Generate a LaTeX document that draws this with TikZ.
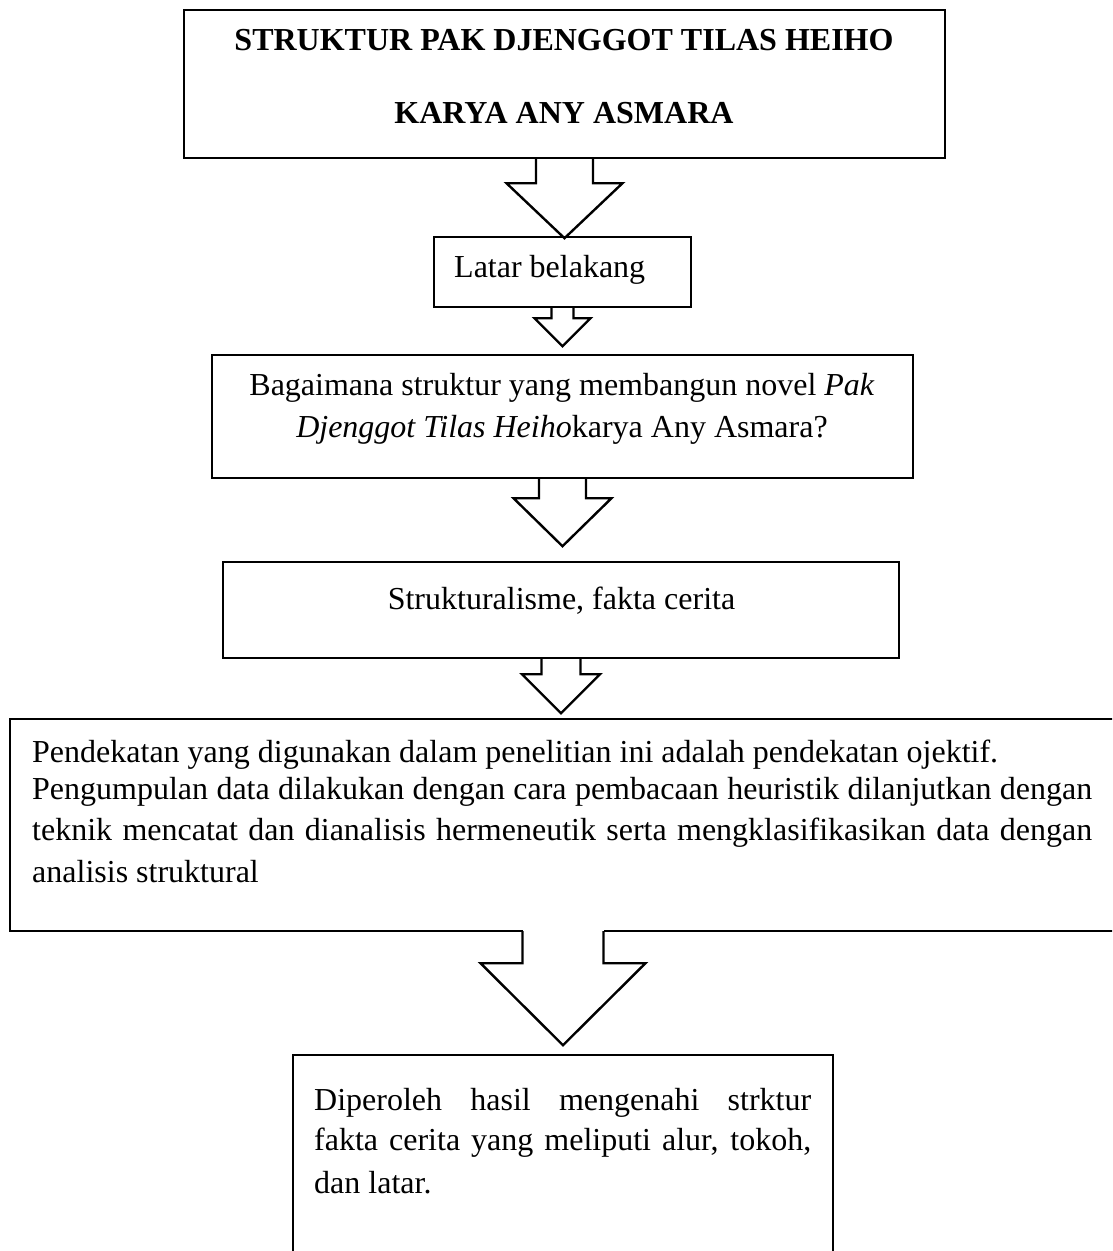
\documentclass[tikz,border=0pt]{standalone}
\usepackage{fontspec}
\setmainfont{Liberation Serif}
\usetikzlibrary{calc}
\newcommand\blkarrow[5]{%
  \draw[blk] ([xshift=-#2pt]#1) -- ++(0,#3) -- ++({#2-#4},0) -- ++(#4,#5)
    -- ++(#4,-#5) -- ++({#2-#4},0) -- ++(0,-#3);}
\begin{document}
\begin{tikzpicture}[x=1pt,y=-1pt,
  box/.style={draw, line width=2.4pt, rectangle, inner sep=0pt},
  blk/.style={draw, line width=2.4pt, line join=miter},
  txt/.style={inner sep=0pt, font=\fontsize{32}{36}\selectfont}]
\useasboundingbox (0,0) rectangle (1112,1251);
\clip (0,0) rectangle (1112,1251);
% boxes
\node[box, minimum width=761pt, minimum height=148pt] (top) at (564.5,84) {};
\node[box, minimum width=257pt, minimum height=70pt] (latar) at (562.5,272) {};
\node[box, minimum width=701pt, minimum height=123pt] (bag) at (562.5,416.5) {};
\node[box, minimum width=676pt, minimum height=96pt] (strukt) at (561,610) {};
\node[inner sep=0pt, minimum width=1106pt, minimum height=212pt] (big) at (563,825) {};
\draw[blk] ([xshift=-40.5pt]big.south) -- (big.south west) -- (big.north west)
  -- (big.north east) -- (big.south east) -- ([xshift=40.5pt]big.south);
\node[box, minimum width=540pt, minimum height=240pt] (res) at (563,1175) {};
% block arrows
\blkarrow{top.south}{28.5}{24}{58}{55}
\blkarrow{latar.south}{11}{10}{28}{28}
\blkarrow{bag.south}{23.5}{19}{49}{48}
\blkarrow{strukt.south}{19.5}{15}{39}{39}
\blkarrow{big.south}{40.5}{32}{82.5}{82}
% texts
\node[txt, anchor=base, font=\fontsize{32}{36}\selectfont\bfseries] (t1) at (564,50) {STRUKTUR PAK DJENGGOT TILAS HEIHO};
\node[txt, anchor=base, font=\fontsize{32}{36}\selectfont\bfseries] (t2) at (564,123) {KARYA ANY ASMARA};
\node[txt, anchor=base west] (l1) at (454,277) {Latar belakang};
\node[txt, anchor=base] (b1) at (562,395) {Bagaimana struktur yang membangun novel \textit{Pak}};
\node[txt, anchor=base] (b2) at (562,437) {\textit{Djenggot Tilas Heiho}karya Any Asmara?};
\node[txt, anchor=base] (s1) at (561.5,609) {Strukturalisme, fakta cerita};
\node[txt, anchor=base west] (p1) at (32,762) {Pendekatan yang digunakan dalam penelitian ini adalah pendekatan ojektif.};
\node[txt, anchor=base west] (p2) at (32,799) {\hbox to 1060pt{Pengumpulan data dilakukan dengan cara pembacaan heuristik dilanjutkan dengan}};
\node[txt, anchor=base west] (p3) at (32,840) {\hbox to 1060pt{teknik mencatat dan dianalisis hermeneutik serta mengklasifikasikan data dengan}};
\node[txt, anchor=base west] (p4) at (32,882) {analisis struktural};
\node[txt, anchor=base west] (r1) at (314,1110) {\hbox to 497pt{Diperoleh hasil mengenahi strktur}};
\node[txt, anchor=base west] (r2) at (314,1150) {\hbox to 497pt{fakta cerita yang meliputi alur, tokoh,}};
\node[txt, anchor=base west] (r3) at (314,1193) {dan latar.};
\end{tikzpicture}
\end{document}
